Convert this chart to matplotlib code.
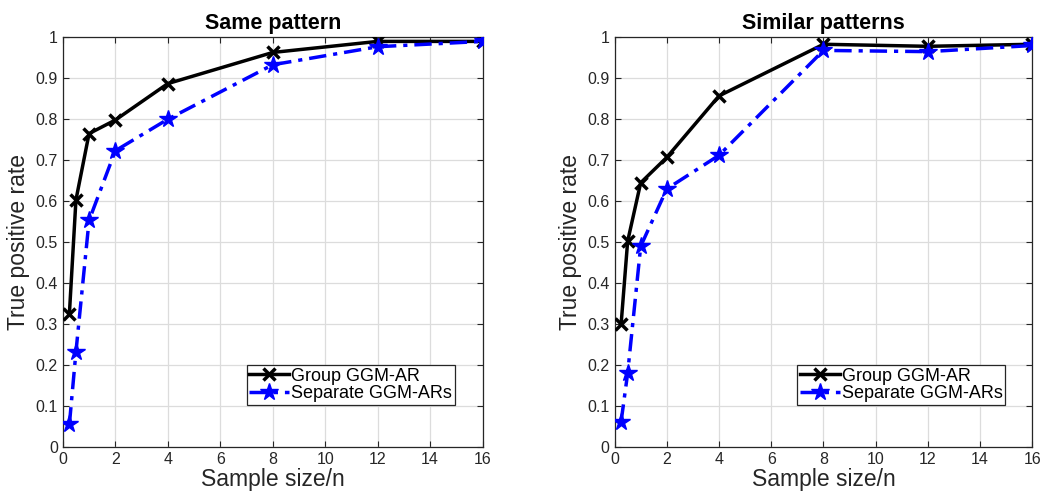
import matplotlib
matplotlib.use("Agg")
import matplotlib.pyplot as plt

plt.rcParams['font.family'] = ['Liberation Sans', 'DejaVu Sans']

sample_size = [0.25, 0.5, 1, 2, 4, 8, 12, 16]
same_group = [0.325, 0.603, 0.765, 0.798, 0.887, 0.963, 0.990, 0.990]
same_separate = [0.055, 0.232, 0.553, 0.723, 0.800, 0.933, 0.977, 0.990]
similar_group = [0.300, 0.502, 0.645, 0.707, 0.857, 0.983, 0.978, 0.983]
similar_separate = [0.062, 0.180, 0.490, 0.630, 0.712, 0.968, 0.965, 0.980]
titles = ["Same pattern", "Similar patterns"]
series_labels = ["Group GGM-AR", "Separate GGM-ARs"]
xticks = [0, 2, 4, 6, 8, 10, 12, 14, 16]
yticks = [0, 0.1, 0.2, 0.3, 0.4, 0.5, 0.6, 0.7, 0.8, 0.9, 1]
ytick_labels = ['0', '0.1', '0.2', '0.3', '0.4', '0.5', '0.6', '0.7', '0.8', '0.9', '1']

fig = plt.figure(figsize=(10.47, 4.96), dpi=100)
axes_rects = [[0.060, 0.0988, 0.401, 0.826], [0.587, 0.0988, 0.399, 0.826]]
data = [(same_group, same_separate), (similar_group, similar_separate)]
legend_anchors = [(0.933, 0.102), (0.935, 0.102)]

for i, rect in enumerate(axes_rects):
    ax = fig.add_axes(rect)
    g, s = data[i]
    ax.plot(sample_size, g, color='black', lw=2.5, marker='x', ms=9, mew=2.5,
            label=series_labels[0], zorder=3)
    ax.plot(sample_size, s, color='blue', lw=2.5, ls=(0, (5, 2, 1.2, 2)), marker='*', ms=13,
            label=series_labels[1], zorder=3)
    ax.set_xlim(0, 16)
    ax.set_ylim(0, 1)
    ax.set_xticks(xticks)
    ax.set_yticks(yticks)
    ax.set_yticklabels(ytick_labels)
    ax.grid(True, color='#dcdcdc', lw=0.9)
    ax.set_axisbelow(True)
    ax.tick_params(direction='in', top=True, right=True, labelsize=11.5, colors='#262626',
                   length=4, width=0.8)
    for sp in ax.spines.values():
        sp.set_color('#262626')
        sp.set_linewidth(0.9)
    ax.set_title(titles[i], fontsize=15.5, fontweight='bold', pad=6)
    ax.set_xlabel("Sample size/n", fontsize=16.5, color='#262626', labelpad=1)
    ax.set_ylabel("True positive rate", fontsize=16.5, color='#262626', labelpad=4)
    leg = ax.legend(loc='lower right', bbox_to_anchor=legend_anchors[i], fontsize=13,
                    fancybox=False, framealpha=1, edgecolor='#262626', borderpad=0.15,
                    handlelength=2.2, handletextpad=0.1, labelspacing=0.05, borderaxespad=0)
    leg.get_frame().set_linewidth(0.9)

fig.savefig("out.png", dpi=100)
